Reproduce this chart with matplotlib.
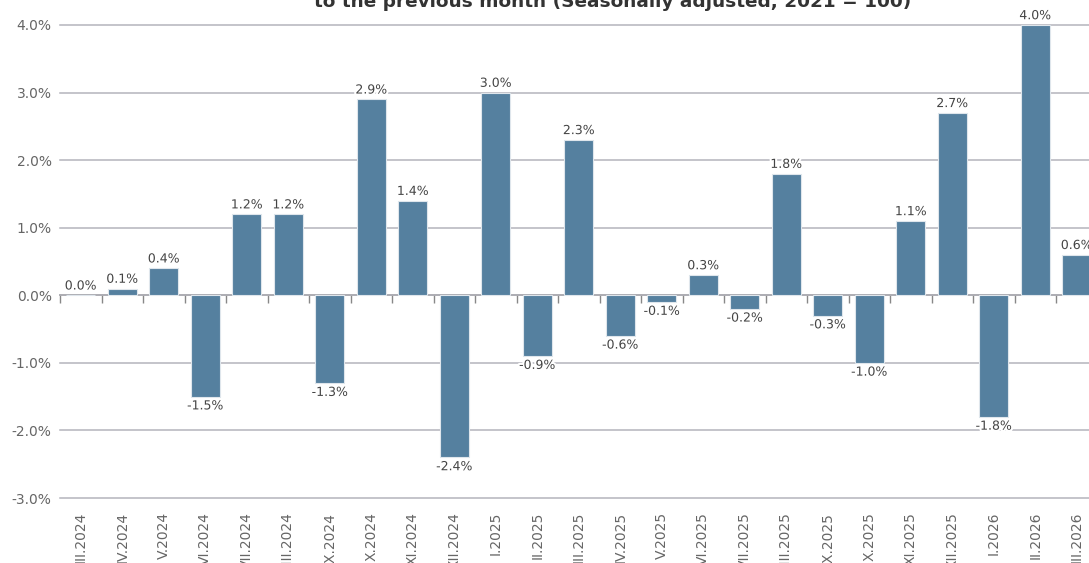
import matplotlib
matplotlib.use("Agg")
import matplotlib.pyplot as plt
import matplotlib.patheffects as pe
import numpy as np

categories = ["III.2024", "IV.2024", "V.2024", "VI.2024", "VII.2024", "VIII.2024",
              "IX.2024", "X.2024", "XI.2024", "XII.2024", "I.2025", "II.2025",
              "III.2025", "IV.2025", "V.2025", "VI.2025", "VII.2025", "VIII.2025",
              "IX.2025", "X.2025", "XI.2025", "XII.2025", "I.2026", "II.2026", "III.2026"]
values = [0.0, 0.1, 0.4, -1.5, 1.2, 1.2, -1.3, 2.9, 1.4, -2.4, 3.0, -0.9,
          2.3, -0.6, -0.1, 0.3, -0.2, 1.8, -0.3, -1.0, 1.1, 2.7, -1.8, 4.0, 0.6]
yticks = [-3, -2, -1, 0, 1, 2, 3, 4]
title = "to the previous month (Seasonally adjusted, 2021 = 100)"

plt.rcParams['font.family'] = ['DejaVu Sans']
W, H = 1089, 563
fig = plt.figure(figsize=(W / 100, H / 100), dpi=100)
ax = fig.add_axes([60 / W, (H - 498) / H, 1037.5 / W, 473 / H])

x = np.arange(len(categories))
bars = ax.bar(x, values, width=0.7, color="#55809f", edgecolor="#dfe6ec", linewidth=0.8, zorder=3)

ax.set_xlim(-0.5, len(categories) - 0.5)
ax.set_ylim(-3, 4)
ax.set_yticks(yticks)
ax.set_yticklabels([f"{v:.1f}%" for v in yticks])
ax.yaxis.grid(True, color="#b4b4bc", linewidth=1.1, zorder=0)
for gl in ax.get_ygridlines():
    gl.set_clip_on(False)
ax.set_axisbelow(True)
for s in ax.spines.values():
    s.set_visible(False)
ax.tick_params(axis="y", length=0, pad=6, labelsize=10, labelcolor="#666666")

ax.set_xticks(x)
ax.set_xticklabels(categories, rotation=90, va="top", ha="center")
ax.tick_params(axis="x", length=0, pad=10, labelsize=10, labelcolor="#666666")

# zero axis with ticks at category boundaries
sec = ax.secondary_xaxis(3 / 7)
sec.set_xticks(np.arange(len(categories) + 1) - 0.5)
sec.set_xticklabels([])
sec.tick_params(axis="x", length=6, width=1, color="#888888", direction="out")
sec.spines["bottom"].set_color("#888888")
sec.spines["bottom"].set_linewidth(1.2)

halo = [pe.withStroke(linewidth=3, foreground="white")]
for xi, v in zip(x, values):
    off = 2 if v >= 0 else -2
    ax.annotate(f"{v:.1f}%", (xi, v), xytext=(0, off), textcoords="offset points",
                ha="center", va="bottom" if v >= 0 else "top", fontsize=9,
                color="#444444", path_effects=halo, zorder=5, annotation_clip=False)

fig.text(613 / W, 1 - 2 / H, title, ha="center", va="center", fontsize=13.3,
         fontweight="bold", color="#333333")

fig.savefig("out.png", dpi=100)
